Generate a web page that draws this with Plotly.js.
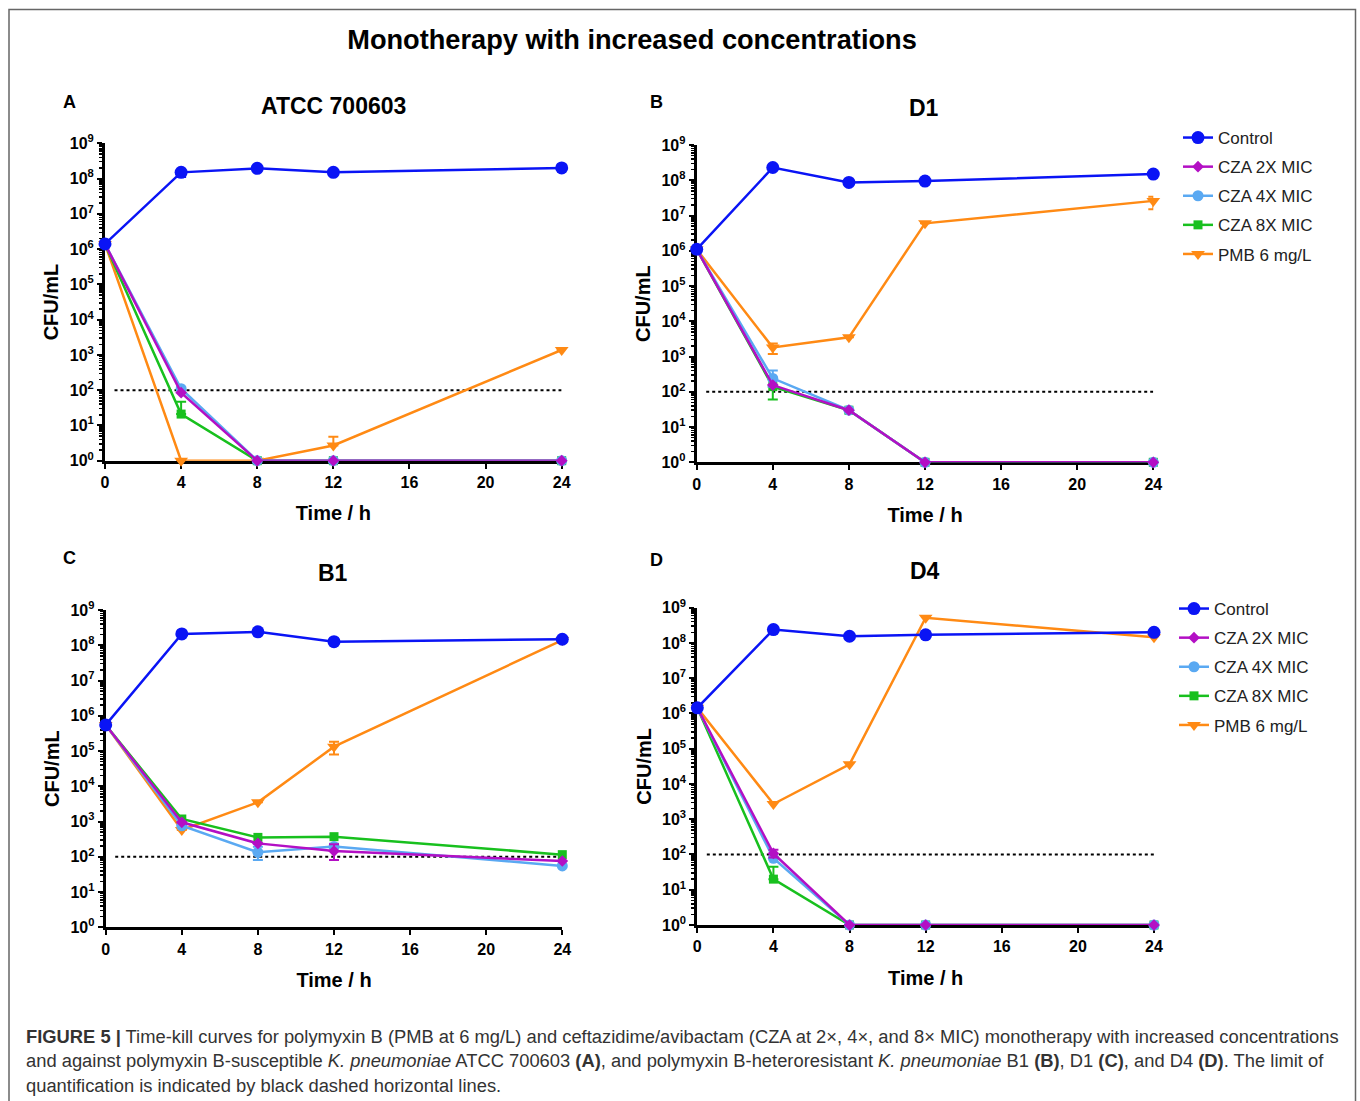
<!DOCTYPE html>
<html>
<head>
<meta charset="utf-8">
<script src="https://cdn.plot.ly/plotly-3.0.1.min.js"></script>
<style>html,body{margin:0;padding:0;background:#fff;}#chart{width:1360px;height:1101px;}</style>
</head>
<body>
<div id="chart"></div>
<script>
// ---------------- DATA ----------------
const times = [0, 4, 8, 12, 24];
const seriesNames = ['Control', 'CZA 2X MIC', 'CZA 4X MIC', 'CZA 8X MIC', 'PMB 6 mg/L'];
const loqValue = 100;
const loqX = [0.5, 24];

// Panel A: ATCC 700603
const A_control = [1.4e6, 1.5e8, 1.95e8, 1.5e8, 2.0e8];
const A_cza2 = [1.4e6, 85, 1, 1, 1];
const A_cza4 = [1.4e6, 110, 1, 1, 1];
const A_cza8 = [1.4e6, 21, 1, 1, 1];
const A_pmb = [1.4e6, 1, 1, 2.7, 1380];
const A_control_errPlus = [0, 0, 0, 0, 0];
const A_control_errMinus = [0, 4e7, 0, 0, 0];
const A_cza8_errPlus = [0, 26, 0, 0, 0];
const A_cza8_errMinus = [0, 0, 0, 0, 0];
const A_pmb_errPlus = [0, 0, 0, 2.1, 0];
const A_pmb_errMinus = [0, 0, 0, 0, 0];

// Panel B: D1
const B_control = [1.1e6, 2.3e8, 8.7e7, 9.5e7, 1.5e8];
const B_cza2 = [1.1e6, 155, 30, 1, 1];
const B_cza4 = [1.1e6, 240, 30, 1, 1];
const B_cza8 = [1.1e6, 140, 30, 1, 1];
const B_pmb = [1.1e6, 1800, 3500, 6.0e6, 2.6e7];
const B_cza4_errPlus = [0, 160, 0, 0, 0];
const B_cza4_errMinus = [0, 100, 0, 0, 0];
const B_cza8_errPlus = [0, 0, 0, 0, 0];
const B_cza8_errMinus = [0, 80, 0, 0, 0];
const B_pmb_errPlus = [0, 550, 0, 0, 8e6];
const B_pmb_errMinus = [0, 620, 0, 0, 1.1e7];

// Panel C: B1
const C_control = [5.5e5, 2.1e8, 2.4e8, 1.26e8, 1.48e8];
const C_cza2 = [5.5e5, 950, 240, 145, 76];
const C_cza4 = [5.5e5, 760, 134, 195, 55];
const C_cza8 = [5.5e5, 1180, 355, 372, 115];
const C_pmb = [5.5e5, 575, 3500, 1.33e5, 1.4e8];
const C_cza2_errPlus = [0, 0, 0, 80, 0];
const C_cza2_errMinus = [0, 0, 0, 64, 0];
const C_cza4_errPlus = [0, 0, 60, 40, 0];
const C_cza4_errMinus = [0, 0, 53, 0, 0];
const C_pmb_errPlus = [0, 0, 0, 5e4, 0];
const C_pmb_errMinus = [0, 0, 0, 5.3e4, 0];

// Panel D: D4
const D_control = [1.45e6, 2.4e8, 1.55e8, 1.7e8, 2.0e8];
const D_cza2 = [1.45e6, 107, 1, 1, 1];
const D_cza4 = [1.45e6, 78, 1, 1, 1];
const D_cza8 = [1.45e6, 20, 1, 1, 1];
const D_pmb = [1.45e6, 2700, 3.6e4, 5.2e8, 1.44e8];
const D_cza2_errPlus = [0, 30, 0, 0, 0];
const D_cza2_errMinus = [0, 25, 0, 0, 0];
const D_cza8_errPlus = [0, 25, 0, 0, 0];
const D_cza8_errMinus = [0, 0, 0, 0, 0];

const yTickVals = [1, 10, 100, 1e3, 1e4, 1e5, 1e6, 1e7, 1e8, 1e9];
const yTickText = ['10<sup>0</sup>', '10<sup>1</sup>', '10<sup>2</sup>', '10<sup>3</sup>', '10<sup>4</sup>',
  '10<sup>5</sup>', '10<sup>6</sup>', '10<sup>7</sup>', '10<sup>8</sup>', '10<sup>9</sup>'];
const xTickVals = [0, 4, 8, 12, 16, 20, 24];
const panelTitles = ['ATCC 700603', 'D1', 'B1', 'D4'];
const panelLetters = ['A', 'B', 'C', 'D'];

// ---------------- STYLE ----------------
const FONT = 'Liberation Sans, Arial, Helvetica, sans-serif';
const styles = {
  'Control':    {color: '#0a14f5', symbol: 'circle', size: 13},
  'CZA 2X MIC': {color: '#b30fc4', symbol: 'diamond', size: 9},
  'CZA 4X MIC': {color: '#5aa9f2', symbol: 'circle', size: 11},
  'CZA 8X MIC': {color: '#18c01e', symbol: 'square', size: 9},
  'PMB 6 mg/L': {color: '#ff8a14', symbol: 'triangle-down', size: 12}
};
const W = 1360, H = 1101;
const px = v => v / W;
const py = v => 1 - v / H;

const panels = [
  {key: 'A', data: [A_control, A_cza2, A_cza4, A_cza8, A_pmb],
   errs: {0: [A_control_errPlus, A_control_errMinus], 3: [A_cza8_errPlus, A_cza8_errMinus], 4: [A_pmb_errPlus, A_pmb_errMinus]},
   xd: [105, 561.7], yd: [143.3, 460.7], legend: null},
  {key: 'B', data: [B_control, B_cza2, B_cza4, B_cza8, B_pmb],
   errs: {2: [B_cza4_errPlus, B_cza4_errMinus], 3: [B_cza8_errPlus, B_cza8_errMinus], 4: [B_pmb_errPlus, B_pmb_errMinus]},
   xd: [696.7, 1153.3], yd: [145, 462.3], legend: 'legend'},
  {key: 'C', data: [C_control, C_cza2, C_cza4, C_cza8, C_pmb],
   errs: {1: [C_cza2_errPlus, C_cza2_errMinus], 2: [C_cza4_errPlus, C_cza4_errMinus], 4: [C_pmb_errPlus, C_pmb_errMinus]},
   xd: [105.7, 562.3], yd: [610, 927.3], legend: null},
  {key: 'D', data: [D_control, D_cza2, D_cza4, D_cza8, D_pmb],
   errs: {1: [D_cza2_errPlus, D_cza2_errMinus], 3: [D_cza8_errPlus, D_cza8_errMinus]},
   xd: [697.3, 1154], yd: [607.7, 925], legend: 'legend2'}
];

const traces = [];
const layout = {
  width: W, height: H,
  margin: {l: 0, r: 0, t: 0, b: 0},
  paper_bgcolor: '#ffffff', plot_bgcolor: 'rgba(0,0,0,0)',
  font: {family: FONT, color: '#000'},
  showlegend: true,
  title: {text: 'Monotherapy with increased concentrations', font: {family: FONT, size: 27.2, weight: 'bold', color: '#000'},
          x: px(632), xanchor: 'center', xref: 'paper', y: py(39), yanchor: 'middle', yref: 'container'},
  annotations: [], shapes: []
};

const drawOrder = [4, 3, 2, 1, 0];
panels.forEach((p, pi) => {
  const n = pi === 0 ? '' : String(pi + 1);
  const xa = 'x' + n, ya = 'y' + n;
  // LOQ dotted line
  traces.push({x: loqX, y: [loqValue, loqValue], xaxis: xa, yaxis: ya, mode: 'lines',
    line: {color: '#000', width: 2, dash: 'dot'}, showlegend: false, hoverinfo: 'skip'});
  drawOrder.forEach(si => {
    const name = seriesNames[si], st = styles[name];
    const t = {
      x: times, y: p.data[si], xaxis: xa, yaxis: ya, name: name,
      mode: 'lines+markers', cliponaxis: false,
      line: {color: st.color, width: 2.5},
      marker: {color: st.color, symbol: st.symbol, size: st.size, line: {width: 0}},
      showlegend: !!p.legend, legendrank: si + 1,
      legendgroup: p.key + '_' + si
    };
    if (p.legend) t.legend = p.legend;
    if (p.errs[si]) {
      t.error_y = {type: 'data', symmetric: false, array: p.errs[si][0], arrayminus: p.errs[si][1],
        color: st.color, thickness: 2, width: 5};
    }
    traces.push(t);
  });
  layout['xaxis' + n] = {
    domain: [px(p.xd[0]), px(p.xd[1])], anchor: ya, range: [0, 24],
    tickmode: 'array', tickvals: xTickVals, ticks: 'outside', ticklen: 5, tickwidth: 2, tickcolor: '#000',
    showline: true, linewidth: 3, linecolor: '#000', showgrid: false, zeroline: false,
    layer: 'below traces', fixedrange: true,
    tickfont: {family: FONT, size: 16, weight: 'bold', color: '#000'},
    title: {text: 'Time / h', font: {family: FONT, size: 20, weight: 'bold', color: '#000'}, standoff: 17}
  };
  layout['yaxis' + n] = {
    type: 'log', domain: [py(p.yd[1]), py(p.yd[0])], anchor: xa, range: [0, 9],
    tickmode: 'array', tickvals: yTickVals, ticktext: yTickText,
    ticks: 'outside', ticklen: 5, tickwidth: 2, tickcolor: '#000',
    minor: {ticks: 'outside', ticklen: 3, tickwidth: 1.5, tickcolor: '#000', dtick: 'D1', showgrid: false},
    showline: true, linewidth: 3, linecolor: '#000', showgrid: false, zeroline: false,
    layer: 'below traces', fixedrange: true,
    tickfont: {family: FONT, size: 16, weight: 'bold', color: '#000'},
    title: {text: 'CFU/mL', font: {family: FONT, size: 20, weight: 'bold', color: '#000'}, standoff: 6}
  };
});

// panel letters and titles
const letterPos = [[69, 102], [656, 102], [69, 558], [656, 560]];
const titlePos = [[333, 106], [924, 108], [333, 573], [925, 571]];
panelLetters.forEach((L, i) => {
  layout.annotations.push({text: L, xref: 'paper', yref: 'paper', x: px(letterPos[i][0]), y: py(letterPos[i][1]),
    xanchor: 'center', yanchor: 'middle', showarrow: false, font: {family: FONT, size: 18, weight: 'bold', color: '#000'}});
  layout.annotations.push({text: panelTitles[i], xref: 'paper', yref: 'paper', x: px(titlePos[i][0]), y: py(titlePos[i][1]),
    xanchor: 'center', yanchor: 'middle', showarrow: false, font: {family: FONT, size: 23, weight: 'bold', color: '#000'}});
});

// legends
layout.legend = {x: px(1178), y: py(120), xanchor: 'left', yanchor: 'top', bgcolor: 'rgba(0,0,0,0)',
  font: {family: FONT, size: 17, color: '#222'}, itemwidth: 30, tracegroupgap: 4, traceorder: 'grouped'};
layout.legend2 = {x: px(1174), y: py(591), xanchor: 'left', yanchor: 'top', bgcolor: 'rgba(0,0,0,0)',
  font: {family: FONT, size: 17, color: '#222'}, itemwidth: 30, tracegroupgap: 4, traceorder: 'grouped'};

// caption
const captionLines = [
  '<b>FIGURE 5 |</b> Time-kill curves for polymyxin B (PMB at 6 mg/L) and ceftazidime/avibactam (CZA at 2×, 4×, and 8× MIC) monotherapy with increased concentrations',
  'and against polymyxin B-susceptible <i>K. pneumoniae</i> ATCC 700603 <b>(A)</b>, and polymyxin B-heteroresistant <i>K. pneumoniae</i> B1 <b>(B)</b>, D1 <b>(C)</b>, and D4 <b>(D)</b>. The limit of',
  'quantification is indicated by black dashed horizontal lines.'
];
const captionY = [1036, 1060, 1085];
captionLines.forEach((c, i) => {
  layout.annotations.push({text: c, xref: 'paper', yref: 'paper', x: px(24), y: py(captionY[i]),
    xanchor: 'left', yanchor: 'middle', align: 'left', showarrow: false,
    font: {family: FONT, size: 18.35, color: '#333'}});
});

// frame
layout.shapes.push({type: 'path', xref: 'paper', yref: 'paper',
  path: `M ${px(9)} ${py(1120)} L ${px(9)} ${py(9.5)} L ${px(1355.5)} ${py(9.5)} L ${px(1355.5)} ${py(1120)}`,
  line: {color: '#666', width: 1.5}});

Plotly.newPlot('chart', traces, layout, {staticPlot: true, displayModeBar: false});
</script>
</body>
</html>
